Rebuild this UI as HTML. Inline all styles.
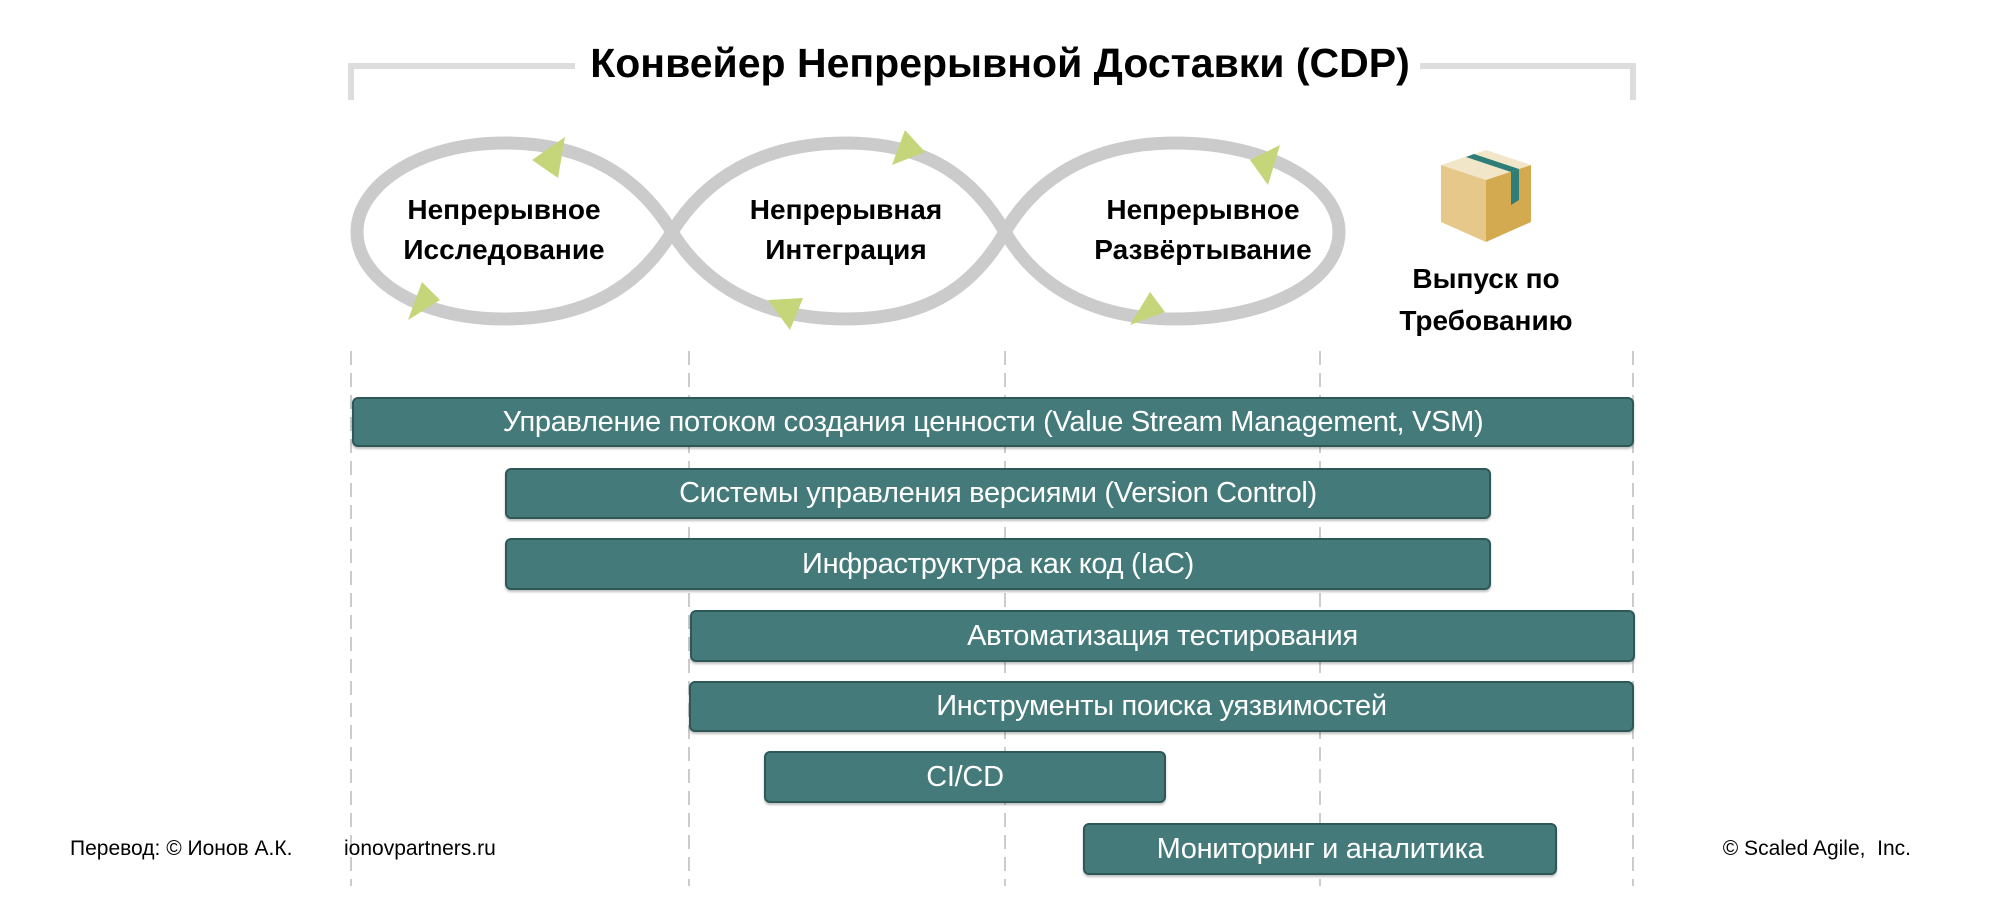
<!DOCTYPE html>
<html><head><meta charset="utf-8"><style>
html,body{margin:0;padding:0;background:#fff}
body{width:2000px;height:917px;position:relative;overflow:hidden;font-family:"Liberation Sans",sans-serif}
.bar{position:absolute;background:#447a7a;border:2px solid #2e5858;border-radius:6px;box-sizing:border-box;color:#fff;font-size:29px;display:flex;align-items:center;justify-content:center;box-shadow:0 2px 2px rgba(0,0,0,.25);letter-spacing:-0.3px}
.t{position:absolute;font-weight:bold;font-size:28px;text-align:center;line-height:40px;color:#000}
.f{position:absolute;font-size:21px;color:#000;top:837px}
</style></head><body>
<svg width="2000" height="917" style="position:absolute;left:0;top:0">
<polyline points="351,100 351,66 575,66" fill="none" stroke="#ddd" stroke-width="6"/>
<polyline points="1420,66 1633,66 1633,100" fill="none" stroke="#ddd" stroke-width="6"/>
<g stroke="#ccc" stroke-width="2" stroke-dasharray="14,8">
<line x1="351" y1="351" x2="351" y2="886"/><line x1="689" y1="351" x2="689" y2="886"/>
<line x1="1005" y1="351" x2="1005" y2="886"/><line x1="1320" y1="351" x2="1320" y2="886"/>
<line x1="1633" y1="351" x2="1633" y2="886"/></g>
<path d="M504,143 C590,143 640,180 672,232 C704,284 760,319 846,319 C930,319 975,284 1005,232 C1035,180 1090,143 1175,143 C1270,143 1339,185 1339,232 C1339,280 1270,319 1175,319 C1090,319 1035,284 1005,232 C975,180 930,143 846,143 C760,143 704,180 672,232 C640,284 590,319 504,319 C420,319 357,280 357,232 C357,185 420,143 504,143Z" fill="none" stroke="#cbcbcb" stroke-width="13"/>
<g fill="#c5d67a">
<polygon points="565,137 532,160 558,178"/>
<polygon points="408,320 440,300 422,282"/>
<polygon points="905,130 892,165 925,152"/>
<polygon points="768,300 790,330 803,298"/>
<polygon points="1280,145 1250,160 1268,185"/>
<polygon points="1150,292 1130,325 1165,312"/>
</g>
<polygon points="1441,165 1486,150 1531,165 1486,180" fill="#f2e6c8"/>
<polygon points="1441,165 1486,180 1486,242 1441,222" fill="#e6c88a"/>
<polygon points="1486,180 1531,165 1531,222 1486,242" fill="#d4aa50"/>
<polygon points="1466,157 1474,154 1519,169 1511,172" fill="#2e7d78"/>
<polygon points="1511,172 1519,169 1519,200 1511,205" fill="#2e7d78"/>
</svg>
<div style="position:absolute;left:0;width:2000px;top:40px;text-align:center;font-weight:bold;font-size:41px">Конвейер Непрерывной Доставки (CDP)</div>
<div class="t" style="left:354px;width:300px;top:190px">Непрерывное<br>Исследование</div>
<div class="t" style="left:696px;width:300px;top:190px">Непрерывная<br>Интеграция</div>
<div class="t" style="left:1053px;width:300px;top:190px">Непрерывное<br>Развёртывание</div>
<div class="t" style="left:1336px;width:300px;top:258px;line-height:42px">Выпуск по<br>Требованию</div>
<div class="bar" style="left:352px;top:397px;width:1282px;height:50px">Управление потоком создания ценности (Value Stream Management, VSM)</div>
<div class="bar" style="left:505px;top:468px;width:986px;height:51px">Системы управления версиями (Version Control)</div>
<div class="bar" style="left:505px;top:538px;width:986px;height:52px">Инфраструктура как код (IaC)</div>
<div class="bar" style="left:690px;top:610px;width:945px;height:52px">Автоматизация тестирования</div>
<div class="bar" style="left:689px;top:681px;width:945px;height:51px">Инструменты поиска уязвимостей</div>
<div class="bar" style="left:764px;top:751px;width:402px;height:52px">CI/CD</div>
<div class="bar" style="left:1083px;top:823px;width:474px;height:52px">Мониторинг и аналитика</div>
<div class="f" style="left:70px">Перевод: © Ионов А.К.</div>
<div class="f" style="left:344px">ionovpartners.ru</div>
<div class="f" style="right:89px">© Scaled Agile,&nbsp; Inc.</div>
</body></html>
